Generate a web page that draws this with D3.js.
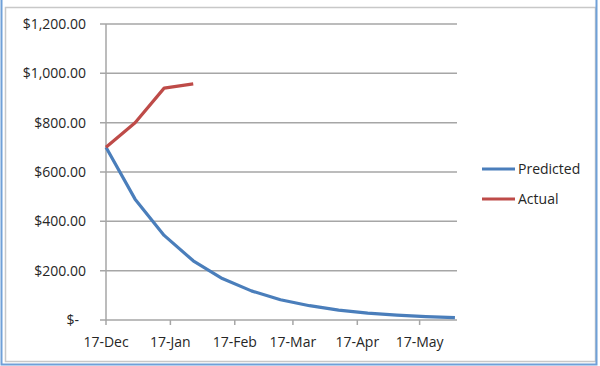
<!DOCTYPE html>
<html lang="en">
<head>
  <meta charset="UTF-8">
  <title>Predicted vs Actual</title>
  <script src="https://d3js.org/d3.v7.min.js"></script>
  <style>
    body {
      margin: 0;
      background: #fff;
      overflow: hidden;
    }
    #chart text {
      font-family: "Open Sans", Arial, sans-serif;
      font-size: 14px;
      fill: #262626;
    }
    .grid line {
      stroke: #a6a6a6;
      stroke-width: 1.5;
    }
  </style>
</head>
<body>
  <div id="chart"></div>
  <script>
    // biweekly dates
    const dates = ["2017-12-17", "2017-12-31", "2018-01-14", "2018-01-28", "2018-02-11",
      "2018-02-25", "2018-03-11", "2018-03-25", "2018-04-08", "2018-04-22",
      "2018-05-06", "2018-05-20", "2018-06-03"];
    const predicted = [700, 490, 343, 240, 168, 118, 82, 58, 40, 28, 20, 14, 10];
    const actual = [700, 800, 940, 957];
    const tickDates = ["2017-12-17", "2018-01-17", "2018-02-17", "2018-03-17", "2018-04-17", "2018-05-17"];
    const yTicks = [0, 200, 400, 600, 800, 1000, 1200];
    const seriesNames = ["Predicted", "Actual"];
    const seriesColors = ["#4a7ebb", "#be4b48"];

    const width = 600;
    const height = 366;
    const parse = d3.utcParse("%Y-%m-%d");

    const svg = d3.select("#chart")
      .append("svg")
      .attr("width", width)
      .attr("height", height);

    // frame
    svg.append("rect")
      .attr("x", 5.5).attr("y", 7.5)
      .attr("width", 590).attr("height", 354)
      .attr("fill", "#fff")
      .attr("stroke", "#c8c8c8")
      .attr("stroke-width", 1.5);
    svg.append("path")
      .attr("d", "M1.5,0V364.5H596.5V0")
      .attr("fill", "none")
      .attr("stroke", "#6fa0d8")
      .attr("stroke-width", 2);

    const x = d3.scaleUtc()
      .domain([parse("2017-12-17"), parse("2018-06-04")])
      .range([106, 457]);

    const y = d3.scaleLinear()
      .domain([0, 1200])
      .range([320, 24]);

    // horizontal gridlines
    svg.append("g")
      .attr("class", "grid")
      .selectAll("line")
      .data(yTicks)
      .join("line")
      .attr("x1", 100)
      .attr("x2", 457)
      .attr("y1", d => y(d))
      .attr("y2", d => y(d));

    // y axis line
    svg.append("line")
      .attr("x1", x.range()[0]).attr("x2", x.range()[0])
      .attr("y1", y(1200)).attr("y2", y(0) + 0.5)
      .attr("stroke", "#a6a6a6")
      .attr("stroke-width", 1.5);

    // x axis ticks
    svg.append("g")
      .selectAll("line")
      .data(tickDates)
      .join("line")
      .attr("x1", d => x(parse(d)))
      .attr("x2", d => x(parse(d)))
      .attr("y1", y(0))
      .attr("y2", y(0) + 5)
      .attr("stroke", "#a6a6a6")
      .attr("stroke-width", 1.5);

    const fmtX = d3.utcFormat("%d-%b");
    svg.append("g")
      .selectAll("text")
      .data(tickDates)
      .join("text")
      .attr("x", d => x(parse(d)))
      .attr("y", 347)
      .attr("text-anchor", "middle")
      .text(d => fmtX(parse(d)));

    const fmtY = d3.format("$,.2f");
    svg.append("g")
      .selectAll("text")
      .data(yTicks)
      .join("text")
      .attr("x", d => d === 0 ? 79 : 86)
      .attr("y", d => y(d))
      .attr("dy", "0.35em")
      .attr("text-anchor", "end")
      .text(d => d === 0 ? "$-" : fmtY(d));

    const line = d3.line()
      .x((d, i) => x(parse(dates[i])))
      .y(d => y(d));

    [predicted, actual].forEach((vals, i) => {
      svg.append("path")
        .datum(vals)
        .attr("fill", "none")
        .attr("stroke", seriesColors[i])
        .attr("stroke-width", 3.2)
        .attr("stroke-linejoin", "round")
        .attr("d", line);
    });

    // legend
    const legend = svg.append("g")
      .selectAll("g")
      .data(seriesNames)
      .join("g")
      .attr("transform", (d, i) => `translate(482,${169 + i * 30})`);

    legend.append("line")
      .attr("x1", 0).attr("x2", 33)
      .attr("stroke", (d, i) => seriesColors[i])
      .attr("stroke-width", 3.2);

    legend.append("text")
      .attr("x", 36)
      .attr("dy", "0.35em")
      .text(d => d);
  </script>
</body>
</html>
